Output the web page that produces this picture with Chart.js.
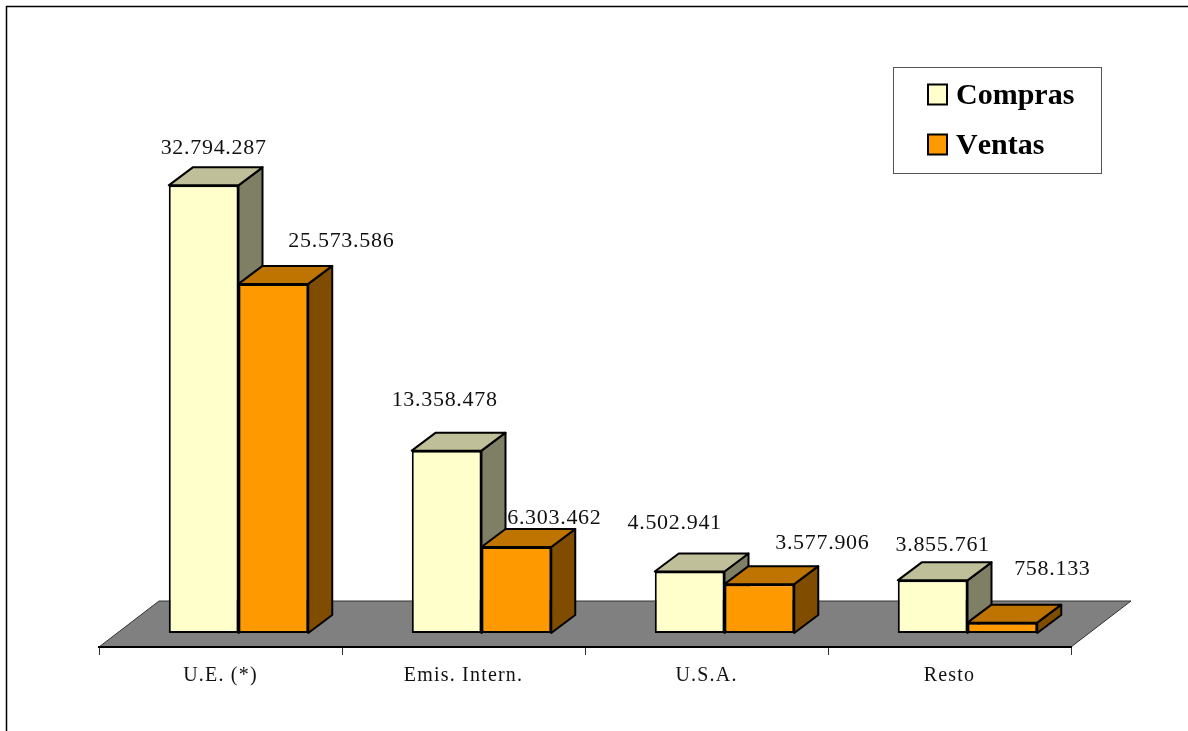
<!DOCTYPE html>
<html>
<head>
<meta charset="utf-8">
<title>Compras y Ventas</title>
<script src="https://cdn.jsdelivr.net/npm/chart.js@4/dist/chart.umd.min.js"></script>
<style>
    html, body { margin: 0; padding: 0; background: #fff; overflow: hidden; }
    canvas { display: block; }
</style>
</head>
<body>
<canvas id="chart" width="1188" height="731"></canvas>
<script>
// ============================================================================
// DATA
// ============================================================================
const categories = ['U.E. (*)', 'Emis. Intern.', 'U.S.A.', 'Resto'];
const compras = [32794287, 13358478, 4502941, 3855761];
const ventas = [25573586, 6303462, 3577906, 758133];

// ============================================================================
// 3D LOOK
// ============================================================================
const SERIF = '"Liberation Serif", "Times New Roman", serif';
const faceColors = [
    { front: '#FFFFCC', top: '#BFBF99', side: '#7F7F66' },
    { front: '#FF9900', top: '#BF7300', side: '#7F4C00' }
];
const barShift = { x: 18, y: -14 };   // bars stand in the middle of the floor
const barDepth = { x: 24, y: -18 };
const floorDepth = { x: 60, y: -46 };

// label placement relative to bar centre / bar top, as in the original sheet
const labelNudges = [
    [[10, -37], [-2, -50], [-15, -48], [10, -35]],
    [[68, -43], [38, -29], [63, -41], [50, -53]]
];

function formatValue(v) {
    return String(v).replace(/\B(?=(\d{3})+$)/g, '.');
}

function fillFace(ctx, points, color) {
    ctx.beginPath();
    points.forEach((p, i) => (i ? ctx.lineTo(p[0], p[1]) : ctx.moveTo(p[0], p[1])));
    ctx.closePath();
    ctx.fillStyle = color;
    ctx.fill();
    ctx.stroke();
}

const scene3d = {
    id: 'scene3d',
    beforeDraw(chart) {
        const { ctx, scales: { x, y } } = chart;
        const base = y.getPixelForValue(0);
        ctx.save();
        ctx.fillStyle = '#fff';
        ctx.fillRect(0, 0, chart.width, chart.height);

        // outer frame, only top and left show up in the original
        ctx.strokeStyle = '#000';
        ctx.lineWidth = 1.5;
        ctx.beginPath();
        ctx.moveTo(6.5, chart.height);
        ctx.lineTo(6.5, 6.5);
        ctx.lineTo(chart.width, 6.5);
        ctx.stroke();

        // floor
        ctx.lineWidth = 1;
        ctx.strokeStyle = '#333';
        fillFace(ctx, [
            [x.left, base],
            [x.left + floorDepth.x, base + floorDepth.y],
            [x.right + floorDepth.x, base + floorDepth.y],
            [x.right, base]
        ], '#808080');
        ctx.restore();
        ctx.letterSpacing = '1.2px';   // stays on for the axis labels
    },
    beforeDatasetsDraw(chart) {
        const { ctx } = chart;
        ctx.save();
        ctx.translate(barShift.x, barShift.y);
        ctx.strokeStyle = '#000';
        ctx.lineWidth = 2;
        ctx.lineJoin = 'round';
        categories.forEach((_, i) => {
            chart.data.datasets.forEach((ds, d) => {
                const bar = chart.getDatasetMeta(d).data[i];
                const left = bar.x - bar.width / 2;
                const right = bar.x + bar.width / 2;
                const dx = barDepth.x, dy = barDepth.y;
                fillFace(ctx, [
                    [right, bar.base], [right + dx, bar.base + dy],
                    [right + dx, bar.y + dy], [right, bar.y]
                ], faceColors[d].side);
                fillFace(ctx, [
                    [left, bar.y], [left + dx, bar.y + dy],
                    [right + dx, bar.y + dy], [right, bar.y]
                ], faceColors[d].top);
            });
        });
    },
    afterDatasetsDraw(chart) {
        chart.ctx.restore();
    },
    afterDraw(chart) {
        const { ctx } = chart;
        ctx.save();
        // value labels
        ctx.letterSpacing = '0.7px';
        ctx.font = '22px ' + SERIF;
        ctx.fillStyle = '#111';
        ctx.textAlign = 'center';
        ctx.textBaseline = 'middle';
        chart.data.datasets.forEach((ds, d) => {
            chart.getDatasetMeta(d).data.forEach((bar, i) => {
                const n = labelNudges[d][i];
                ctx.fillText(formatValue(ds.data[i]),
                    bar.x + barShift.x + n[0],
                    bar.y + barShift.y + n[1]);
            });
        });

        // legend box
        ctx.letterSpacing = '0px';
        ctx.fontKerning = 'none';
        ctx.strokeStyle = '#555';
        ctx.lineWidth = 1;
        ctx.fillStyle = '#fff';
        ctx.fillRect(893.5, 67.5, 208, 106);
        ctx.strokeRect(893.5, 67.5, 208, 106);
        ctx.font = 'bold 30px ' + SERIF;
        ctx.textAlign = 'left';
        ctx.textBaseline = 'alphabetic';
        chart.data.datasets.forEach((ds, d) => {
            const top = 84.5 + d * 50;
            ctx.fillStyle = ds.backgroundColor;
            ctx.strokeStyle = '#000';
            ctx.lineWidth = 2;
            ctx.fillRect(928, top, 19, 20);
            ctx.strokeRect(928, top, 19, 20);
            ctx.fillStyle = '#000';
            ctx.fillText(ds.label, 956, top + 19);
        });
        ctx.restore();
    }
};

new Chart(document.getElementById('chart').getContext('2d'), {
    type: 'bar',
    data: {
        labels: categories,
        datasets: [
            { label: 'Compras', data: compras, backgroundColor: faceColors[0].front },
            { label: 'Ventas', data: ventas, backgroundColor: faceColors[1].front }
        ]
    },
    options: {
        responsive: false,
        animation: false,
        layout: { padding: { left: 99, right: 117, top: 101, bottom: 0 } },
        datasets: {
            bar: {
                categoryPercentage: 0.574,
                barPercentage: 1,
                borderColor: '#000',
                borderWidth: 2,
                borderSkipped: false
            }
        },
        plugins: {
            legend: { display: false },
            tooltip: { enabled: false }
        },
        scales: {
            x: {
                afterFit(scale) { scale.height = 84; },
                border: { display: true, color: '#000', width: 2 },
                grid: { drawOnChartArea: false, drawTicks: true, tickLength: 8, color: '#333' },
                ticks: {
                    color: '#111',
                    padding: 9,
                    maxRotation: 0,
                    font: { family: SERIF, size: 20 }
                }
            },
            y: {
                display: false,
                min: 0,
                max: 40000000
            }
        }
    },
    plugins: [scene3d]
});
</script>
</body>
</html>
